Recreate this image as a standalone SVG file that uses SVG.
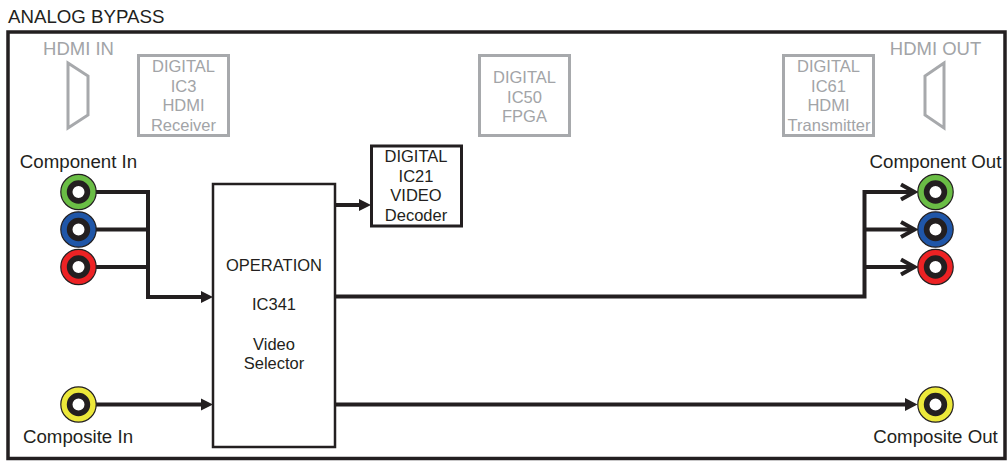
<svg xmlns="http://www.w3.org/2000/svg" width="1008" height="461" viewBox="0 0 1008 461">
<defs>
<g id="jack"><circle r="17.700" stroke="#231f20" stroke-width="1.200"/><circle r="8.850" fill="#fff" stroke="#231f20" stroke-width="5.700"/></g>
</defs>
<style>
text{font-family:"Liberation Sans",Arial,sans-serif;font-size:18.700px;fill:#231f20;text-anchor:middle}
.g text,.s text{font-size:16.500px}
.g text{fill:#a2a4a7}
.g text.h{font-size:18.500px}
.gb{fill:#fff;stroke:#a7a9ac;stroke-width:3}
.c{fill:none;stroke:#231f20;stroke-width:4}
</style>
<rect width="1008" height="461" fill="#fff"/>
<text x="8" y="23" style="text-anchor:start">ANALOG BYPASS</text>
<rect id="frame" x="8" y="32" width="997" height="426.500" fill="none" stroke="#231f20" stroke-width="3.500"/>
<g id="hdmi-in" class="g"><text class="h" x="78.500" y="55">HDMI IN</text><path d="M68 63L88 76V115L68 128Z" fill="none" stroke="#a7a9ac" stroke-width="3"/></g>
<g id="ic3" class="g"><rect class="gb" x="138.500" y="55.500" width="90" height="80"/><text x="183.500" y="72">DIGITAL</text><text x="183.500" y="91.500">IC3</text><text x="183.500" y="111">HDMI</text><text x="183.500" y="131">Receiver</text></g>
<g id="ic50" class="g"><rect class="gb" x="479.500" y="55.500" width="90" height="80"/><text x="524.500" y="83">DIGITAL</text><text x="524.500" y="102.500">IC50</text><text x="524.500" y="122">FPGA</text></g>
<g id="ic61" class="g"><rect class="gb" x="783.500" y="55.500" width="90" height="80"/><text x="828.500" y="72">DIGITAL</text><text x="828.500" y="91.500">IC61</text><text x="828.500" y="111">HDMI</text><text x="829" y="131">Transmitter</text></g>
<g id="hdmi-out" class="g"><text class="h" x="935.500" y="55">HDMI OUT</text><path d="M944 63L925 76V115L944 128Z" fill="none" stroke="#a7a9ac" stroke-width="3"/></g>
<g id="connectors">
<path class="c" d="M95 192H148V297H201" />
<path class="c" d="M95 229.500H148M95 267H148"/>
<path d="M201 291L213 297L201 303Z" fill="#231f20"/>
<path class="c" d="M95 404.500H203"/><path d="M201 398.500L213 404.500L201 410.500Z" fill="#231f20"/>
<path class="c" d="M335 205H360"/><path d="M359 199L371 205L359 211Z" fill="#231f20"/>
<path class="c" d="M335 296.500H864.500V192H914"/>
<path class="c" d="M864 229.500H914M864 267H914"/>
<path class="c" d="M335 404.500H908"/>
<path d="M905 398L917.500 404.500L905 411Z" fill="#231f20"/>
<path d="M901 184.500L914.500 192L901 199.500M901 222L914.500 229.500L901 237M901 259.500L914.500 267L901 274.500" fill="none" stroke="#231f20" stroke-width="4"/>
</g>
<g id="selector" class="s"><rect x="213" y="184" width="122" height="263" fill="#fff" stroke="#231f20" stroke-width="2.500"/><text x="274" y="271">OPERATION</text><text x="274" y="310">IC341</text><text x="274" y="349.500">Video</text><text x="274" y="369">Selector</text></g>
<g id="ic21" class="s"><rect x="371.500" y="146" width="90" height="80" fill="#fff" stroke="#231f20" stroke-width="3"/><text x="416" y="162">DIGITAL</text><text x="416" y="182">IC21</text><text x="416" y="201">VIDEO</text><text x="416" y="221">Decoder</text></g>
<g id="component-in"><text x="78.500" y="168">Component In</text><use href="#jack" x="78.500" y="192" fill="#6abd45"/><use href="#jack" x="78.500" y="229.500" fill="#1f56a8"/><use href="#jack" x="78.500" y="267" fill="#ed2224"/></g>
<g id="composite-in"><use href="#jack" x="78.500" y="404.500" fill="#ece83a"/><text x="78" y="443">Composite In</text></g>
<g id="component-out"><text x="935.500" y="168">Component Out</text><use href="#jack" x="935.500" y="192" fill="#6abd45"/><use href="#jack" x="935.500" y="229.500" fill="#1f56a8"/><use href="#jack" x="935.500" y="267" fill="#ed2224"/></g>
<g id="composite-out"><use href="#jack" x="935.500" y="404.500" fill="#ece83a"/><text x="935.500" y="443">Composite Out</text></g>
</svg>
